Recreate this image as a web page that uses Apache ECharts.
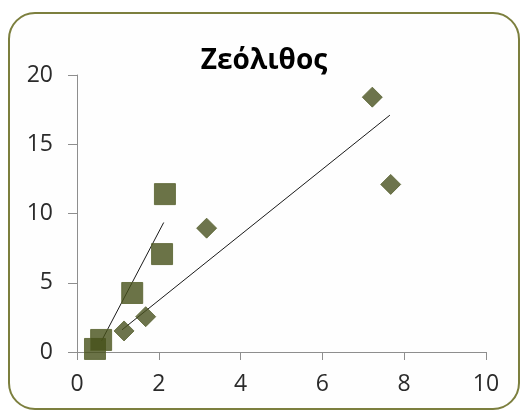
<!DOCTYPE html>
<html>
<head>
<meta charset="utf-8">
<script src="https://cdn.jsdelivr.net/npm/echarts@6/dist/echarts.min.js"></script>
<style>
html,body{margin:0;padding:0;background:#ffffff;}
#c{width:522px;height:412px;}
</style>
</head>
<body>
<div id="c"></div>
<script>
var titleText = 'Ζεόλιθος';
var squareX = [0.44, 0.59, 1.35, 2.08, 2.15];
var squareY = [0.22, 0.87, 4.26, 7.07, 11.4];
var diamondX = [1.15, 1.68, 3.17, 7.22, 7.67];
var diamondY = [1.52, 2.55, 8.94, 18.4, 12.1];
var trend1X = [0.6, 2.12];
var trend1Y = [0.8, 9.35];
var trend2X = [1.1, 7.65];
var trend2Y = [1.6, 17.1];
var xTicks = [0, 2, 4, 6, 8, 10];
var yTicks = [0, 5, 10, 15, 20];

function pairs(xs, ys){ return xs.map(function(x,i){ return [x, ys[i]]; }); }

var chart = echarts.init(document.getElementById('c'), null, {renderer:'canvas'});
var fontFam = '"Open Sans", Lato, sans-serif';
chart.setOption({
  backgroundColor: '#ffffff',
  animation: false,
  graphic: [{
    type: 'rect',
    z: -10,
    shape: {x: 9, y: 13, width: 510, height: 396, r: 26},
    style: {fill: '#fefefe', stroke: '#7c7f3e', lineWidth: 2}
  }],
  title: {
    text: titleText,
    left: 259, top: 42, textAlign: 'center',
    textStyle: {fontFamily: fontFam, fontSize: 28, fontWeight: 'bold', color: '#000000'}
  },
  grid: {left: 77, right: 36, top: 75, bottom: 60},
  xAxis: {
    type: 'value', min: xTicks[0], max: xTicks[xTicks.length-1], interval: 2,
    axisLine: {show: true, lineStyle: {color: '#8e8e8e', width: 1}},
    axisTick: {show: true, length: 8, inside: false, lineStyle: {color: '#8e8e8e'}},
    splitLine: {show: false},
    axisLabel: {margin: 21, fontFamily: fontFam, fontSize: 23, color: '#2b2b2b'}
  },
  yAxis: {
    type: 'value', min: yTicks[0], max: yTicks[yTicks.length-1], interval: 5,
    axisLine: {show: true, lineStyle: {color: '#8e8e8e', width: 1}},
    axisTick: {show: true, length: 9, inside: false, lineStyle: {color: '#8e8e8e'}},
    splitLine: {show: false},
    axisLabel: {margin: 24, fontFamily: fontFam, fontSize: 23, color: '#2b2b2b'}
  },
  series: [
    {
      type: 'line', data: pairs(trend1X, trend1Y), showSymbol: false, symbol: 'none',
      lineStyle: {color: '#1a1a1a', width: 1}, z: 1
    },
    {
      type: 'line', data: pairs(trend2X, trend2Y), showSymbol: false, symbol: 'none',
      lineStyle: {color: '#1a1a1a', width: 1}, z: 1
    },
    {
      type: 'scatter', data: pairs(squareX, squareY), symbol: 'rect', symbolSize: 21,
      itemStyle: {color: '#465019', borderColor: '#56602c', borderWidth: 1}, z: 3
    },
    {
      type: 'scatter', data: pairs(diamondX, diamondY), symbol: 'diamond', symbolSize: 20,
      itemStyle: {color: '#48511f', borderColor: '#58612f', borderWidth: 1}, z: 3
    }
  ]
});
</script>
</body>
</html>
